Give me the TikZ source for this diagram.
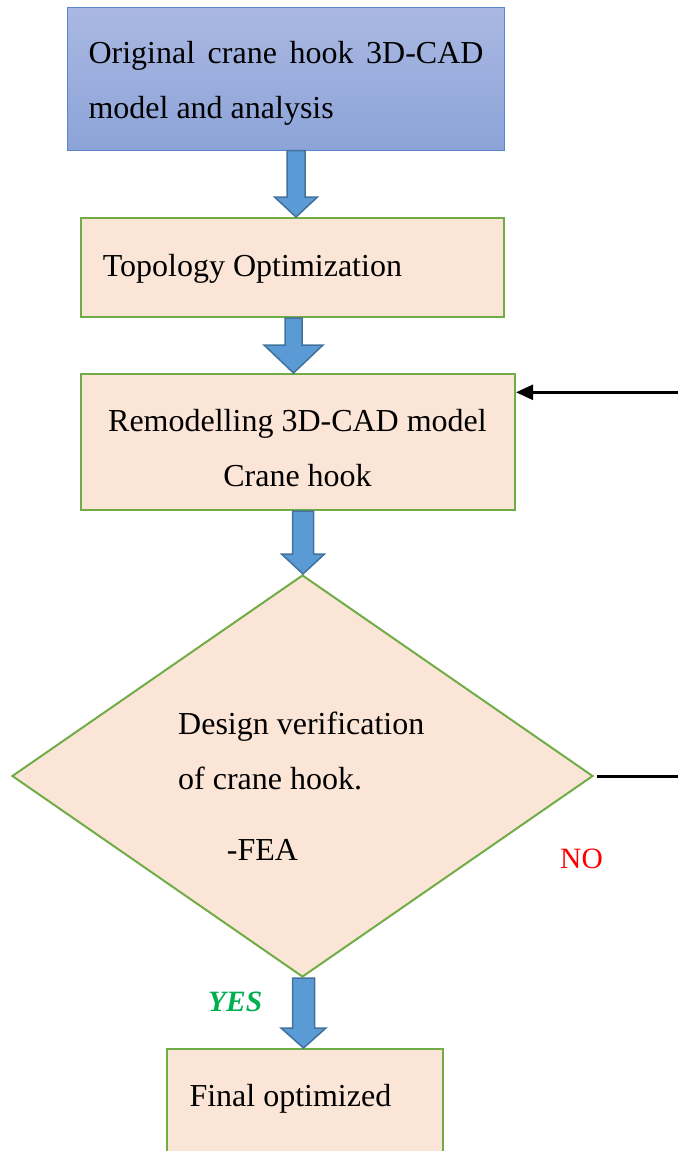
\documentclass[tikz,border=0pt]{standalone}
\usepackage{fontspec}
\setmainfont{Liberation Serif}
\usetikzlibrary{shapes.geometric,arrows.meta,calc,fit}

\definecolor{boxfill}{HTML}{FBE5D6}
\definecolor{boxline}{HTML}{70AD47}
\definecolor{arrowfill}{HTML}{5B9BD5}
\definecolor{arrowline}{HTML}{41719C}
\definecolor{topline}{HTML}{5A86CF}
\definecolor{toptop}{HTML}{AAB8E2}
\definecolor{topbottom}{HTML}{8CA3D8}
\definecolor{yesgreen}{HTML}{00B050}

\tikzset{
  flowbox/.style={draw=boxline, fill=boxfill, line width=2pt, inner sep=0pt},
  startbox/.style={draw=topline, top color=toptop, bottom color=topbottom, line width=1pt, inner sep=0pt},
  decision/.style={diamond, draw=boxline, fill=boxfill, line width=2pt, inner sep=0pt, minimum width=581pt, minimum height=402pt},
  boxtext/.style={font=\fontsize{32}{55}\selectfont, inner sep=0pt},
  blockarrow/.style={draw=arrowline, fill=arrowfill, line width=1.5pt, line join=miter},
  feedback/.style={line width=3pt},
}

% x, from node, to node, shaft half-width, head half-width, head length
\newcommand{\blockarrow}[6]{%
  \path (#1,0 |- #2.south) coordinate (ba-top) (#1,0 |- #3.north) coordinate (ba-tip);
  \draw[blockarrow] ($(ba-top)+(-#4,0)$) -- ($(ba-tip)+(-#4,-#6)$) -- ($(ba-tip)+(-#5,-#6)$)
    -- (ba-tip) -- ($(ba-tip)+(#5,-#6)$) -- ($(ba-tip)+(#4,-#6)$) -- ($(ba-top)+(#4,0)$) -- cycle;
}

\begin{document}
\begin{tikzpicture}[x=1pt, y=-1pt]
  \path[use as bounding box, clip] (0,0) rectangle (678,1151);
  % boxes
  \node[startbox, fit={(67.5,7.5) (504,150)}] (cad) {};
  \node[flowbox, fit={(81,218) (504,317)}] (topo) {};
  \node[flowbox, fit={(81,374) (515,510)}] (remodel) {};
  \node[decision] (verify) at (302.5,776) {};
  \node[flowbox, fit={(167,1049) (443,1190)}] (final) {};
  % labels
  \node[boxtext, text width=395pt, align=justify, anchor=base west] (cad-text) at (88.3,63.3)
    {Original crane hook 3D-CAD model and analysis};
  \node[boxtext, anchor=base west] (topo-text) at (102.7,276) {Topology Optimization};
  \node[boxtext, align=center, anchor=base] (remodel-text) at (297.5,486.7)
    {Remodelling 3D-CAD model\\Crane hook};
  \node[boxtext, align=left, anchor=base west] (verify-text) at (178,860)
    {Design verification\\of crane hook.\\[16pt]\hspace*{48.7pt}-FEA};
  \node[boxtext, anchor=base west] (final-text) at (189.3,1106.7) {Final optimized};
  \node[font=\fontsize{29.5}{30}\selectfont, text=red, inner sep=0pt, anchor=base west] (no) at (560,868) {NO};
  \node[font=\fontsize{29.5}{30}\selectfont\bfseries\itshape, text=yesgreen, inner sep=0pt, anchor=base west] (yes) at (208,1011.7) {YES};
  % flow arrows
  \blockarrow{296}{cad}{topo}{9}{21.5}{20}
  \blockarrow{293.5}{topo}{remodel}{8.5}{29.5}{28}
  \blockarrow{303}{remodel}{verify}{10.5}{21.5}{20}
  \blockarrow{303.5}{verify}{final}{11}{22.5}{20}
  % feedback loop
  \coordinate (fb-out) at (678,0 |- verify.east);
  \coordinate (fb-in) at (678,392.3);
  \draw[feedback] ($(verify.east)+(3,0)$) -- (fb-out);
  \draw[feedback, line width=2.5pt, -{Triangle[length=17pt,width=15pt]}] (fb-in) -- (remodel.east |- fb-in);
\end{tikzpicture}
\end{document}
